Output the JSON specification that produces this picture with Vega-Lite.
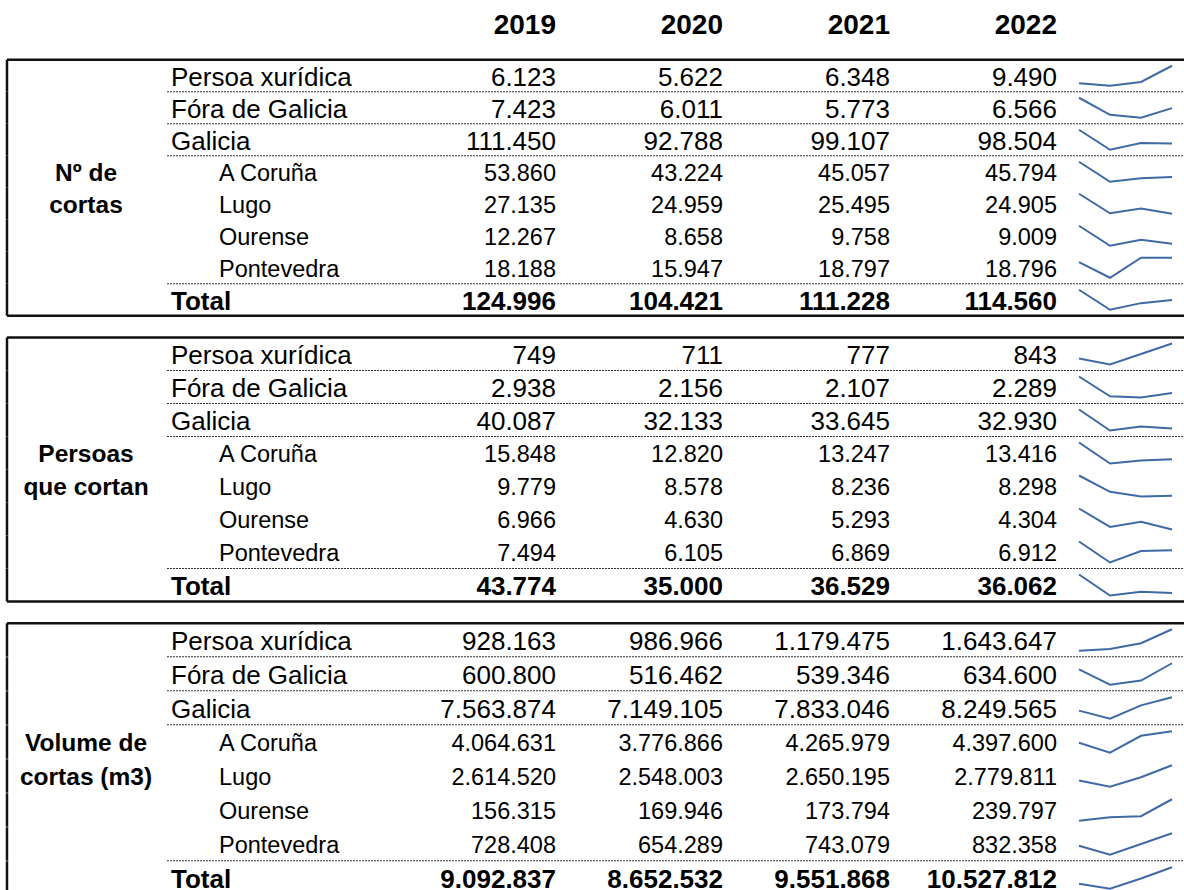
{
  "$schema": "https://vega.github.io/schema/vega-lite/v6.json",
  "padding": 0,
  "spacing": 17.75,
  "background": "white",
  "resolve": {"scale": {"x": "independent", "y": "independent"}},
  "datasets": {
    "rows": [
      {"block": "b1", "row": "Persoa xurídica", "2019": 6123, "2020": 5622, "2021": 6348, "2022": 9490},
      {"block": "b1", "row": "Fóra de Galicia", "2019": 7423, "2020": 6011, "2021": 5773, "2022": 6566},
      {"block": "b1", "row": "Galicia", "2019": 111450, "2020": 92788, "2021": 99107, "2022": 98504},
      {"block": "b1", "row": "A Coruña", "grp": "Nº de", "2019": 53860, "2020": 43224, "2021": 45057, "2022": 45794},
      {"block": "b1", "row": "Lugo", "grp": "cortas", "2019": 27135, "2020": 24959, "2021": 25495, "2022": 24905},
      {"block": "b1", "row": "Ourense", "2019": 12267, "2020": 8658, "2021": 9758, "2022": 9009},
      {"block": "b1", "row": "Pontevedra", "2019": 18188, "2020": 15947, "2021": 18797, "2022": 18796},
      {"block": "b1", "row": "Total", "2019": 124996, "2020": 104421, "2021": 111228, "2022": 114560},
      {"block": "b2", "row": "Persoa xurídica", "2019": 749, "2020": 711, "2021": 777, "2022": 843},
      {"block": "b2", "row": "Fóra de Galicia", "2019": 2938, "2020": 2156, "2021": 2107, "2022": 2289},
      {"block": "b2", "row": "Galicia", "2019": 40087, "2020": 32133, "2021": 33645, "2022": 32930},
      {"block": "b2", "row": "A Coruña", "grp": "Persoas", "2019": 15848, "2020": 12820, "2021": 13247, "2022": 13416},
      {"block": "b2", "row": "Lugo", "grp": "que cortan", "2019": 9779, "2020": 8578, "2021": 8236, "2022": 8298},
      {"block": "b2", "row": "Ourense", "2019": 6966, "2020": 4630, "2021": 5293, "2022": 4304},
      {"block": "b2", "row": "Pontevedra", "2019": 7494, "2020": 6105, "2021": 6869, "2022": 6912},
      {"block": "b2", "row": "Total", "2019": 43774, "2020": 35000, "2021": 36529, "2022": 36062},
      {"block": "b3", "row": "Persoa xurídica", "2019": 928163, "2020": 986966, "2021": 1179475, "2022": 1643647},
      {"block": "b3", "row": "Fóra de Galicia", "2019": 600800, "2020": 516462, "2021": 539346, "2022": 634600},
      {"block": "b3", "row": "Galicia", "2019": 7563874, "2020": 7149105, "2021": 7833046, "2022": 8249565},
      {"block": "b3", "row": "A Coruña", "grp": "Volume de", "2019": 4064631, "2020": 3776866, "2021": 4265979, "2022": 4397600},
      {"block": "b3", "row": "Lugo", "grp": "cortas (m3)", "2019": 2614520, "2020": 2548003, "2021": 2650195, "2022": 2779811},
      {"block": "b3", "row": "Ourense", "2019": 156315, "2020": 169946, "2021": 173794, "2022": 239797},
      {"block": "b3", "row": "Pontevedra", "2019": 728408, "2020": 654289, "2021": 743079, "2022": 832358},
      {"block": "b3", "row": "Total", "2019": 9092837, "2020": 8652532, "2021": 9551868, "2022": 10527812}
    ],
    "years": [{"year": "2019"}, {"year": "2020"}, {"year": "2021"}, {"year": "2022"}]
  },
  "vconcat": [
    {
      "data": {"name": "years"},
      "width": 1184,
      "height": 38,
      "mark": {"type": "text", "align": "right", "baseline": "middle", "fontWeight": "bold", "fontSize": 28, "dy": 7},
      "encoding": {
        "x": {"field": "year", "type": "ordinal", "scale": {"type": "point", "domain": ["2019", "2020", "2021", "2022"], "range": [556, 1057], "padding": 0}},
        "text": {"field": "year"}
      }
    },
    {
      "data": {"name": "rows"},
      "transform": [{"filter": "datum.block == 'b1'"}],
      "facet": {"row": {"field": "row", "type": "nominal", "sort": ["Persoa xurídica", "Fóra de Galicia", "Galicia", "A Coruña", "Lugo", "Ourense", "Pontevedra", "Total"], "header": null}},
      "spacing": {"row": 0},
      "bounds": "flush",
      "resolve": {"scale": {"y": "independent"}},
      "spec": {
        "width": 1184,
        "height": 32,
        "resolve": {"scale": {"x": "independent", "y": "independent"}},
        "layer": [
          {"mark": {"type": "rule", "color": "#111", "strokeWidth": 2.5},
           "encoding": {"x": {"datum": "b", "type": "nominal", "scale": {"type": "point", "domain": ["b"], "range": [7, 7], "padding": 0}}}},
          {"transform": [{"filter": "datum.row == 'Persoa xurídica'"}],
           "mark": {"type": "rule", "color": "#111", "strokeWidth": 2.5},
           "encoding": {"x": {"datum": "a", "type": "nominal", "scale": {"type": "point", "domain": ["a", "b"], "range": [7, 1184], "padding": 0}}, "x2": {"datum": "b"},
             "y": {"datum": "r", "type": "nominal", "bandPosition": 0, "scale": {"type": "band", "domain": ["r"], "paddingInner": 0, "paddingOuter": 0}}}},
          {"transform": [{"filter": "datum.row == 'Total'"}],
           "mark": {"type": "rule", "color": "#111", "strokeWidth": 2.5},
           "encoding": {"x": {"datum": "a", "type": "nominal", "scale": {"type": "point", "domain": ["a", "b"], "range": [7, 1184], "padding": 0}}, "x2": {"datum": "b"},
             "y": {"datum": "r", "type": "nominal", "bandPosition": 1, "scale": {"type": "band", "domain": ["r"], "paddingInner": 0, "paddingOuter": 0}}}},
          {"transform": [{"filter": "indexof(['Persoa xurídica','Fóra de Galicia','Galicia','Pontevedra'], datum.row) >= 0"}],
           "mark": {"type": "rule", "color": "#333", "strokeWidth": 1, "strokeDash": [2, 1]},
           "encoding": {"x": {"datum": "a", "type": "nominal", "scale": {"type": "point", "domain": ["a", "b"], "range": [167, 1184], "padding": 0}}, "x2": {"datum": "b"},
             "y": {"datum": "r", "type": "nominal", "bandPosition": 1, "scale": {"type": "band", "domain": ["r"], "paddingInner": 0, "paddingOuter": 0}}}},
          {"transform": [{"filter": "indexof(['Persoa xurídica','Fóra de Galicia','Galicia'], datum.row) >= 0"}],
           "mark": {"type": "text", "align": "left", "baseline": "middle", "fontSize": 26, "dy": 2},
           "encoding": {"x": {"datum": "l", "type": "nominal", "scale": {"type": "point", "domain": ["l"], "range": [171, 171], "padding": 0}}, "text": {"field": "row"}}},
          {"transform": [{"filter": "indexof(['A Coruña','Lugo','Ourense','Pontevedra'], datum.row) >= 0"}],
           "mark": {"type": "text", "align": "left", "baseline": "middle", "fontSize": 23.5, "dy": 2},
           "encoding": {"x": {"datum": "l", "type": "nominal", "scale": {"type": "point", "domain": ["l"], "range": [219, 219], "padding": 0}}, "text": {"field": "row"}}},
          {"transform": [{"filter": "datum.row == 'Total'"}],
           "mark": {"type": "text", "align": "left", "baseline": "middle", "fontSize": 26, "fontWeight": "bold", "dy": 2},
           "encoding": {"x": {"datum": "l", "type": "nominal", "scale": {"type": "point", "domain": ["l"], "range": [171, 171], "padding": 0}}, "text": {"field": "row"}}},
          {"transform": [{"filter": "isValid(datum.grp)"}],
           "mark": {"type": "text", "align": "center", "baseline": "middle", "fontSize": 24.5, "fontWeight": "bold", "dy": 2},
           "encoding": {"x": {"datum": "g", "type": "nominal", "scale": {"type": "point", "domain": ["g"], "range": [86, 86], "padding": 0}}, "text": {"field": "grp"}}},
          {"transform": [{"filter": "datum.row != 'Total'"}, {"fold": ["2019", "2020", "2021", "2022"], "as": ["year", "value"]}],
           "mark": {"type": "text", "align": "right", "baseline": "middle", "dy": 2},
           "encoding": {"x": {"field": "year", "type": "ordinal", "scale": {"type": "point", "domain": ["2019", "2020", "2021", "2022"], "range": [556, 1057], "padding": 0}},
             "text": {"field": "value", "type": "quantitative", "format": ",d"},
             "size": {"condition": {"test": "indexof(['A Coruña','Lugo','Ourense','Pontevedra'], datum.row) >= 0", "value": 23.5}, "value": 26}}},
          {"transform": [{"filter": "datum.row == 'Total'"}, {"fold": ["2019", "2020", "2021", "2022"], "as": ["year", "value"]}],
           "mark": {"type": "text", "align": "right", "baseline": "middle", "fontSize": 26, "fontWeight": "bold", "dy": 2},
           "encoding": {"x": {"field": "year", "type": "ordinal", "scale": {"type": "point", "domain": ["2019", "2020", "2021", "2022"], "range": [556, 1057], "padding": 0}},
             "text": {"field": "value", "type": "quantitative", "format": ",d"}}},
          {"transform": [{"fold": ["2019", "2020", "2021", "2022"], "as": ["year", "value"]}],
           "mark": {"type": "line", "color": "#3f6aa6", "strokeWidth": 2},
           "encoding": {"x": {"field": "year", "type": "ordinal", "scale": {"type": "point", "domain": ["2019", "2020", "2021", "2022"], "range": [1079, 1172], "padding": 0}},
             "y": {"field": "value", "type": "quantitative", "scale": {"zero": false, "nice": false, "padding": 6}}}}
        ]
      }
    },
    {
      "data": {"name": "rows"},
      "transform": [{"filter": "datum.block == 'b2'"}],
      "facet": {"row": {"field": "row", "type": "nominal", "sort": ["Persoa xurídica", "Fóra de Galicia", "Galicia", "A Coruña", "Lugo", "Ourense", "Pontevedra", "Total"], "header": null}},
      "spacing": {"row": 0},
      "bounds": "flush",
      "resolve": {"scale": {"y": "independent"}},
      "spec": {
        "width": 1184,
        "height": 33,
        "resolve": {"scale": {"x": "independent", "y": "independent"}},
        "layer": [
          {"mark": {"type": "rule", "color": "#111", "strokeWidth": 2.5},
           "encoding": {"x": {"datum": "b", "type": "nominal", "scale": {"type": "point", "domain": ["b"], "range": [7, 7], "padding": 0}}}},
          {"transform": [{"filter": "datum.row == 'Persoa xurídica'"}],
           "mark": {"type": "rule", "color": "#111", "strokeWidth": 2.5},
           "encoding": {"x": {"datum": "a", "type": "nominal", "scale": {"type": "point", "domain": ["a", "b"], "range": [7, 1184], "padding": 0}}, "x2": {"datum": "b"},
             "y": {"datum": "r", "type": "nominal", "bandPosition": 0, "scale": {"type": "band", "domain": ["r"], "paddingInner": 0, "paddingOuter": 0}}}},
          {"transform": [{"filter": "datum.row == 'Total'"}],
           "mark": {"type": "rule", "color": "#111", "strokeWidth": 2.5},
           "encoding": {"x": {"datum": "a", "type": "nominal", "scale": {"type": "point", "domain": ["a", "b"], "range": [7, 1184], "padding": 0}}, "x2": {"datum": "b"},
             "y": {"datum": "r", "type": "nominal", "bandPosition": 1, "scale": {"type": "band", "domain": ["r"], "paddingInner": 0, "paddingOuter": 0}}}},
          {"transform": [{"filter": "indexof(['Persoa xurídica','Fóra de Galicia','Galicia','Pontevedra'], datum.row) >= 0"}],
           "mark": {"type": "rule", "color": "#333", "strokeWidth": 1, "strokeDash": [2, 1]},
           "encoding": {"x": {"datum": "a", "type": "nominal", "scale": {"type": "point", "domain": ["a", "b"], "range": [167, 1184], "padding": 0}}, "x2": {"datum": "b"},
             "y": {"datum": "r", "type": "nominal", "bandPosition": 1, "scale": {"type": "band", "domain": ["r"], "paddingInner": 0, "paddingOuter": 0}}}},
          {"transform": [{"filter": "indexof(['Persoa xurídica','Fóra de Galicia','Galicia'], datum.row) >= 0"}],
           "mark": {"type": "text", "align": "left", "baseline": "middle", "fontSize": 26, "dy": 2},
           "encoding": {"x": {"datum": "l", "type": "nominal", "scale": {"type": "point", "domain": ["l"], "range": [171, 171], "padding": 0}}, "text": {"field": "row"}}},
          {"transform": [{"filter": "indexof(['A Coruña','Lugo','Ourense','Pontevedra'], datum.row) >= 0"}],
           "mark": {"type": "text", "align": "left", "baseline": "middle", "fontSize": 23.5, "dy": 2},
           "encoding": {"x": {"datum": "l", "type": "nominal", "scale": {"type": "point", "domain": ["l"], "range": [219, 219], "padding": 0}}, "text": {"field": "row"}}},
          {"transform": [{"filter": "datum.row == 'Total'"}],
           "mark": {"type": "text", "align": "left", "baseline": "middle", "fontSize": 26, "fontWeight": "bold", "dy": 2},
           "encoding": {"x": {"datum": "l", "type": "nominal", "scale": {"type": "point", "domain": ["l"], "range": [171, 171], "padding": 0}}, "text": {"field": "row"}}},
          {"transform": [{"filter": "isValid(datum.grp)"}],
           "mark": {"type": "text", "align": "center", "baseline": "middle", "fontSize": 24.5, "fontWeight": "bold", "dy": 2},
           "encoding": {"x": {"datum": "g", "type": "nominal", "scale": {"type": "point", "domain": ["g"], "range": [86, 86], "padding": 0}}, "text": {"field": "grp"}}},
          {"transform": [{"filter": "datum.row != 'Total'"}, {"fold": ["2019", "2020", "2021", "2022"], "as": ["year", "value"]}],
           "mark": {"type": "text", "align": "right", "baseline": "middle", "dy": 2},
           "encoding": {"x": {"field": "year", "type": "ordinal", "scale": {"type": "point", "domain": ["2019", "2020", "2021", "2022"], "range": [556, 1057], "padding": 0}},
             "text": {"field": "value", "type": "quantitative", "format": ",d"},
             "size": {"condition": {"test": "indexof(['A Coruña','Lugo','Ourense','Pontevedra'], datum.row) >= 0", "value": 23.5}, "value": 26}}},
          {"transform": [{"filter": "datum.row == 'Total'"}, {"fold": ["2019", "2020", "2021", "2022"], "as": ["year", "value"]}],
           "mark": {"type": "text", "align": "right", "baseline": "middle", "fontSize": 26, "fontWeight": "bold", "dy": 2},
           "encoding": {"x": {"field": "year", "type": "ordinal", "scale": {"type": "point", "domain": ["2019", "2020", "2021", "2022"], "range": [556, 1057], "padding": 0}},
             "text": {"field": "value", "type": "quantitative", "format": ",d"}}},
          {"transform": [{"fold": ["2019", "2020", "2021", "2022"], "as": ["year", "value"]}],
           "mark": {"type": "line", "color": "#3f6aa6", "strokeWidth": 2},
           "encoding": {"x": {"field": "year", "type": "ordinal", "scale": {"type": "point", "domain": ["2019", "2020", "2021", "2022"], "range": [1079, 1172], "padding": 0}},
             "y": {"field": "value", "type": "quantitative", "scale": {"zero": false, "nice": false, "padding": 6}}}}
        ]
      }
    },
    {
      "data": {"name": "rows"},
      "transform": [{"filter": "datum.block == 'b3'"}],
      "facet": {"row": {"field": "row", "type": "nominal", "sort": ["Persoa xurídica", "Fóra de Galicia", "Galicia", "A Coruña", "Lugo", "Ourense", "Pontevedra", "Total"], "header": null}},
      "spacing": {"row": 0},
      "bounds": "flush",
      "resolve": {"scale": {"y": "independent"}},
      "spec": {
        "width": 1184,
        "height": 33.5,
        "resolve": {"scale": {"x": "independent", "y": "independent"}},
        "layer": [
          {"mark": {"type": "rule", "color": "#111", "strokeWidth": 2.5},
           "encoding": {"x": {"datum": "b", "type": "nominal", "scale": {"type": "point", "domain": ["b"], "range": [7, 7], "padding": 0}}}},
          {"transform": [{"filter": "datum.row == 'Persoa xurídica'"}],
           "mark": {"type": "rule", "color": "#111", "strokeWidth": 2.5},
           "encoding": {"x": {"datum": "a", "type": "nominal", "scale": {"type": "point", "domain": ["a", "b"], "range": [7, 1184], "padding": 0}}, "x2": {"datum": "b"},
             "y": {"datum": "r", "type": "nominal", "bandPosition": 0, "scale": {"type": "band", "domain": ["r"], "paddingInner": 0, "paddingOuter": 0}}}},
          {"transform": [{"filter": "datum.row == 'Total'"}],
           "mark": {"type": "rule", "color": "#111", "strokeWidth": 2.5},
           "encoding": {"x": {"datum": "a", "type": "nominal", "scale": {"type": "point", "domain": ["a", "b"], "range": [7, 1184], "padding": 0}}, "x2": {"datum": "b"},
             "y": {"datum": "r", "type": "nominal", "bandPosition": 1, "scale": {"type": "band", "domain": ["r"], "paddingInner": 0, "paddingOuter": 0}}}},
          {"transform": [{"filter": "indexof(['Persoa xurídica','Fóra de Galicia','Galicia','Pontevedra'], datum.row) >= 0"}],
           "mark": {"type": "rule", "color": "#333", "strokeWidth": 1, "strokeDash": [2, 1]},
           "encoding": {"x": {"datum": "a", "type": "nominal", "scale": {"type": "point", "domain": ["a", "b"], "range": [167, 1184], "padding": 0}}, "x2": {"datum": "b"},
             "y": {"datum": "r", "type": "nominal", "bandPosition": 1, "scale": {"type": "band", "domain": ["r"], "paddingInner": 0, "paddingOuter": 0}}}},
          {"transform": [{"filter": "indexof(['Persoa xurídica','Fóra de Galicia','Galicia'], datum.row) >= 0"}],
           "mark": {"type": "text", "align": "left", "baseline": "middle", "fontSize": 26, "dy": 2},
           "encoding": {"x": {"datum": "l", "type": "nominal", "scale": {"type": "point", "domain": ["l"], "range": [171, 171], "padding": 0}}, "text": {"field": "row"}}},
          {"transform": [{"filter": "indexof(['A Coruña','Lugo','Ourense','Pontevedra'], datum.row) >= 0"}],
           "mark": {"type": "text", "align": "left", "baseline": "middle", "fontSize": 23.5, "dy": 2},
           "encoding": {"x": {"datum": "l", "type": "nominal", "scale": {"type": "point", "domain": ["l"], "range": [219, 219], "padding": 0}}, "text": {"field": "row"}}},
          {"transform": [{"filter": "datum.row == 'Total'"}],
           "mark": {"type": "text", "align": "left", "baseline": "middle", "fontSize": 26, "fontWeight": "bold", "dy": 2},
           "encoding": {"x": {"datum": "l", "type": "nominal", "scale": {"type": "point", "domain": ["l"], "range": [171, 171], "padding": 0}}, "text": {"field": "row"}}},
          {"transform": [{"filter": "isValid(datum.grp)"}],
           "mark": {"type": "text", "align": "center", "baseline": "middle", "fontSize": 24.5, "fontWeight": "bold", "dy": 2},
           "encoding": {"x": {"datum": "g", "type": "nominal", "scale": {"type": "point", "domain": ["g"], "range": [86, 86], "padding": 0}}, "text": {"field": "grp"}}},
          {"transform": [{"filter": "datum.row != 'Total'"}, {"fold": ["2019", "2020", "2021", "2022"], "as": ["year", "value"]}],
           "mark": {"type": "text", "align": "right", "baseline": "middle", "dy": 2},
           "encoding": {"x": {"field": "year", "type": "ordinal", "scale": {"type": "point", "domain": ["2019", "2020", "2021", "2022"], "range": [556, 1057], "padding": 0}},
             "text": {"field": "value", "type": "quantitative", "format": ",d"},
             "size": {"condition": {"test": "indexof(['A Coruña','Lugo','Ourense','Pontevedra'], datum.row) >= 0", "value": 23.5}, "value": 26}}},
          {"transform": [{"filter": "datum.row == 'Total'"}, {"fold": ["2019", "2020", "2021", "2022"], "as": ["year", "value"]}],
           "mark": {"type": "text", "align": "right", "baseline": "middle", "fontSize": 26, "fontWeight": "bold", "dy": 2},
           "encoding": {"x": {"field": "year", "type": "ordinal", "scale": {"type": "point", "domain": ["2019", "2020", "2021", "2022"], "range": [556, 1057], "padding": 0}},
             "text": {"field": "value", "type": "quantitative", "format": ",d"}}},
          {"transform": [{"fold": ["2019", "2020", "2021", "2022"], "as": ["year", "value"]}],
           "mark": {"type": "line", "color": "#3f6aa6", "strokeWidth": 2},
           "encoding": {"x": {"field": "year", "type": "ordinal", "scale": {"type": "point", "domain": ["2019", "2020", "2021", "2022"], "range": [1079, 1172], "padding": 0}},
             "y": {"field": "value", "type": "quantitative", "scale": {"zero": false, "nice": false, "padding": 6}}}}
        ]
      }
    }
  ],
  "config": {
    "view": {"stroke": null},
    "axis": {"disable": true},
    "text": {"font": "Liberation Sans", "color": "#000"},
    "locale": {"number": {"decimal": ",", "thousands": ".", "grouping": [3], "currency": ["", " €"]}}
  }
}
